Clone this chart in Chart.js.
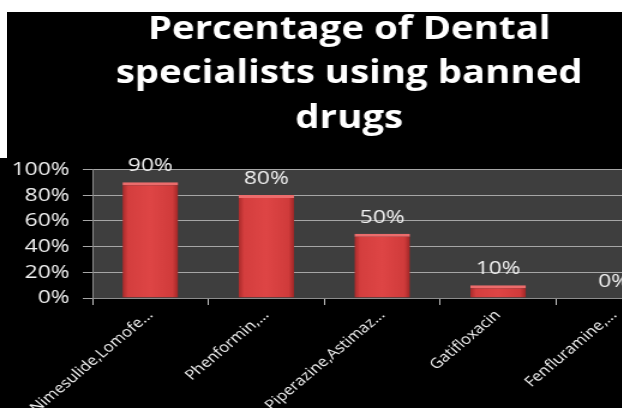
<!DOCTYPE html>
<html>
<head>
<meta charset="utf-8">
<script src="https://cdn.jsdelivr.net/npm/chart.js@4.4.1/dist/chart.umd.min.js"></script>
<style>
  html, body { margin: 0; padding: 0; background: #000; overflow: hidden; width: 622px; height: 408px; }
  /* the source picture is stretched sideways, so the whole chart is too */
  #wrap { width: 582px; height: 408px; position: absolute; left: 0; top: 0; transform: scaleX(1.2); transform-origin: 0 0; }
  .edge { position: absolute; background: #fff; }
</style>
</head>
<body>
<div id="wrap"><canvas id="chart"></canvas></div>
<div class="edge" style="left:0;top:0;width:622px;height:12px"></div>
<div class="edge" style="left:0;top:0;width:7px;height:158px"></div>
<script>
// values
const drugs = ["Nimesulide,Lomofe...", "Phenformin,...", "Piperazine,Astimaz...", "Gatifloxacin", "Fenfluramine,..."]
const percentUsing = [90, 80, 50, 10, 0]
const titleLines = ["Percentage of Dental", "specialists using banned", "drugs"]

const FONT = "'Open Sans', 'DejaVu Sans', sans-serif"
const BAR_PCT = 0.48

// dark grey plot area behind the bars
const plotBg = {
  id: "plotBg",
  beforeDraw(chart) {
    const { ctx, chartArea: a } = chart
    ctx.save()
    ctx.fillStyle = "#3e3e3e"
    ctx.fillRect(a.left, a.top, a.right - a.left, a.bottom - a.top)
    ctx.restore()
  }
}

// percentage labels above each bar
const barLabels = {
  id: "barLabels",
  afterDatasetsDraw(chart) {
    const { ctx } = chart
    const meta = chart.getDatasetMeta(0)
    ctx.save()
    ctx.fillStyle = "#f2f2f2"
    ctx.font = "19px " + FONT
    ctx.textAlign = "center"
    ctx.textBaseline = "alphabetic"
    meta.data.forEach((bar, i) => {
      ctx.fillText(percentUsing[i] + "%", bar.x, bar.y - 11)
    })
    ctx.restore()
  }
}

// shaded bar sides, placed from the x scale
function barFill(context) {
  const chart = context.chart
  const xs = chart.scales.x
  if (!chart.chartArea || !xs || xs.width <= 0) return "#d63e3e"
  const cx = xs.getPixelForValue(context.dataIndex)
  const half = (xs.width / drugs.length) * BAR_PCT / 2
  const g = chart.ctx.createLinearGradient(cx - half, 0, cx + half, 0)
  g.addColorStop(0, "#a82a2a")
  g.addColorStop(0.1, "#d43e3e")
  g.addColorStop(0.5, "#de4545")
  g.addColorStop(0.9, "#d03b3b")
  g.addColorStop(1, "#9e2626")
  return g
}

const ctx = document.getElementById("chart").getContext("2d")
new Chart(ctx, {
  type: "bar",
  data: {
    labels: drugs,
    datasets: [{
      data: percentUsing,
      backgroundColor: barFill,
      borderColor: "#ec6c6c",
      borderWidth: { top: 3, left: 0, right: 0, bottom: 0 },
      categoryPercentage: 1,
      barPercentage: BAR_PCT
    }]
  },
  options: {
    responsive: true,
    maintainAspectRatio: false,
    animation: false,
    layout: { padding: { left: 0, right: 0, top: 7, bottom: 0 } },
    plugins: {
      legend: { display: false },
      tooltip: { enabled: false },
      title: {
        display: true,
        text: titleLines,
        color: "#ffffff",
        font: { family: FONT, size: 32, weight: "bold", lineHeight: 1.4 },
        padding: { top: 0, bottom: 28 }
      }
    },
    scales: {
      x: {
        grid: { display: true, offset: true, drawOnChartArea: false, color: "#bfbfbf", tickLength: 7 },
        border: { color: "#8c8c8c" },
        ticks: {
          color: "#f2f2f2",
          font: { family: FONT, size: 14 },
          minRotation: 45,
          maxRotation: 45,
          autoSkip: false,
          padding: 2
        },
        afterFit(scale) { scale.height = 110 }
      },
      y: {
        min: 0,
        max: 100,
        grid: { color: "#a6a6a6", tickLength: 8 },
        border: { color: "#8c8c8c" },
        ticks: {
          stepSize: 20,
          autoSkip: false,
          color: "#f2f2f2",
          font: { family: FONT, size: 19, lineHeight: 1 },
          padding: 11,
          callback: (v) => v + "%"
        },
        afterFit(scale) { scale.width = 77 }
      },
      // empty strip on the right so the title stays centred on the full width
      yRight: {
        position: "right",
        min: 0,
        max: 100,
        grid: { display: false },
        border: { display: false },
        ticks: { display: false },
        afterFit(scale) { scale.width = 22 }
      }
    }
  },
  plugins: [plotBg, barLabels]
})
</script>
</body>
</html>
